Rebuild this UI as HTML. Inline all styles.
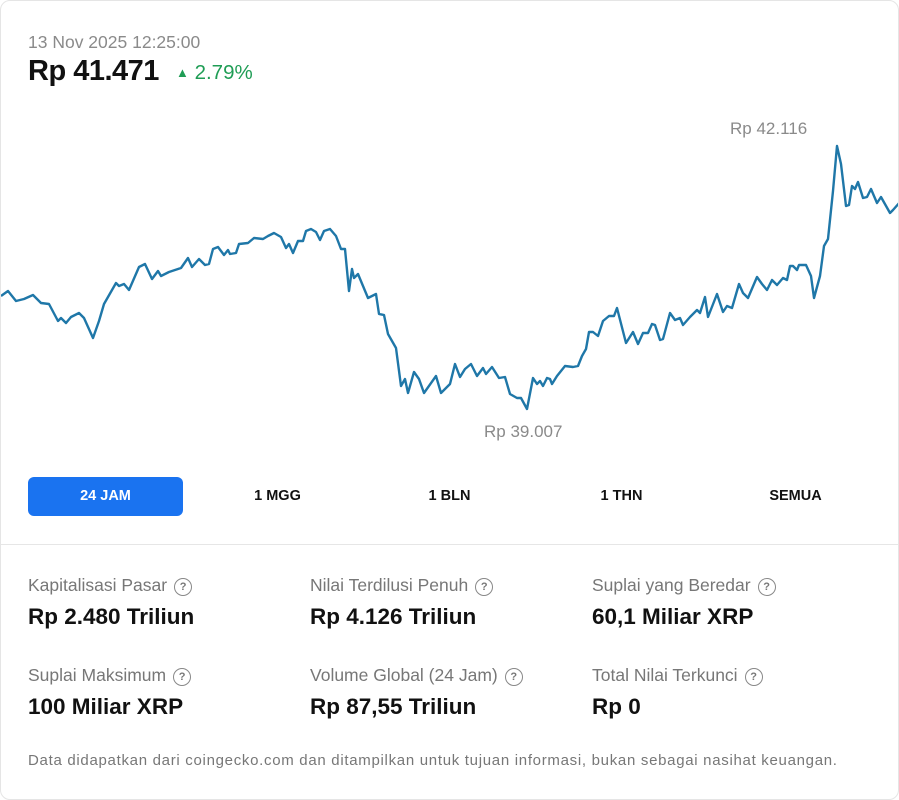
<!DOCTYPE html>
<html><head><meta charset="utf-8"><style>
body{margin:0;background:#fff;font-family:"Liberation Sans",sans-serif;}
.card{position:absolute;left:0;top:0;width:897px;height:798px;border:1px solid #e5e5e5;border-radius:10px;overflow:hidden;background:#fff}
.date{position:absolute;left:27px;top:31px;font-size:17.5px;color:#8a8a8a}
.price{position:absolute;left:27px;top:54px;font-size:29px;font-weight:bold;color:#111;letter-spacing:-0.5px}
.chg{position:absolute;left:175px;top:60px;font-size:20.5px;color:#1f9d55}
.lab{position:absolute;font-size:17px;color:#8a8a8a}
.tabs{position:absolute;top:476px;left:27px;width:845px;height:39px}
.tab{position:absolute;top:0;height:39px;line-height:39px;font-size:14.5px;font-weight:bold;color:#111;text-align:center;width:155px}
.act{background:#1a73f0;color:#fff;border-radius:6px}
.hr{position:absolute;left:0;top:543px;width:899px;height:1px;background:#e6e6e6}
.sl{position:absolute;font-size:17.5px;color:#777}
.sv{position:absolute;font-size:22.5px;font-weight:bold;color:#111}
.q{display:inline-block;width:16px;height:16px;border:1.5px solid #888;border-radius:50%;font-size:11px;line-height:16px;text-align:center;color:#777;margin-left:7px;vertical-align:1px;font-weight:bold}
.foot{position:absolute;left:27px;top:751px;font-size:15px;letter-spacing:0.7px;color:#777}
</style></head><body><div class="card">
<div class="date">13 Nov 2025 12:25:00</div>
<div class="price">Rp 41.471</div>
<div class="chg"><span style="font-size:13px;vertical-align:2px">▲</span> 2.79%</div>
<div class="lab" style="left:729px;top:118px">Rp 42.116</div>
<div class="lab" style="left:483px;top:421px">Rp 39.007</div>
<svg style="position:absolute;left:0;top:0" width="899" height="470"><polyline fill="none" stroke="#1f77a8" stroke-width="2.4" stroke-linejoin="round" points="0,295 7,290 15,300 23,298 32,294 40,302 48,303 57,320 60,317 65,322 70,316 78,312 83,317 92,337 98,320 103,303 115,282 118,285 123,283 128,289 138,266 144,263 151,278 157,270 160,275 168,271 180,267 187,257 191,266 198,258 204,264 208,263 212,248 217,246 223,254 227,249 229,253 235,252 238,243 247,242 253,237 262,238 267,235 273,232 280,236 285,247 288,243 292,252 297,240 302,240 305,230 310,228 315,231 319,239 323,230 329,228 335,235 340,248 344,248 348,290 351,268 353,277 357,273 367,297 375,293 378,313 383,314 387,333 395,347 400,385 404,378 407,392 413,371 418,378 423,392 435,375 440,392 449,383 454,363 459,376 464,368 470,363 476,375 482,367 485,373 491,366 498,377 504,376 509,393 516,397 520,397 526,408 532,377 536,383 539,380 542,385 546,377 549,378 551,383 556,375 564,365 572,366 577,365 581,355 585,348 588,331 592,331 597,335 602,320 608,315 613,315 616,307 625,342 632,331 637,343 642,332 647,332 651,323 654,324 659,339 662,338 669,312 674,319 679,317 682,324 689,316 696,309 699,312 704,296 707,316 716,293 722,311 726,305 731,307 738,283 742,292 747,297 756,276 761,283 766,289 771,279 776,284 782,277 786,279 789,265 792,265 796,269 798,264 805,264 810,275 813,297 819,275 823,245 827,238 832,190 836,145 840,163 845,205 848,204 851,185 854,188 857,181 862,197 866,196 870,188 876,202 880,196 889,212 892,209 899,201"/></svg>
<div class="tabs">
<div class="tab act" style="left:0">24 JAM</div>
<div class="tab" style="left:172px">1 MGG</div>
<div class="tab" style="left:344px">1 BLN</div>
<div class="tab" style="left:516px">1 THN</div>
<div class="tab" style="left:690px">SEMUA</div>
</div>
<div class="hr"></div>
<div class="sl" style="left:27px;top:574px">Kapitalisasi Pasar<span class="q">?</span></div>
<div class="sv" style="left:27px;top:603px">Rp 2.480 Triliun</div>
<div class="sl" style="left:309px;top:574px">Nilai Terdilusi Penuh<span class="q">?</span></div>
<div class="sv" style="left:309px;top:603px">Rp 4.126 Triliun</div>
<div class="sl" style="left:591px;top:574px">Suplai yang Beredar<span class="q">?</span></div>
<div class="sv" style="left:591px;top:603px">60,1 Miliar XRP</div>
<div class="sl" style="left:27px;top:664px">Suplai Maksimum<span class="q">?</span></div>
<div class="sv" style="left:27px;top:693px">100 Miliar XRP</div>
<div class="sl" style="left:309px;top:664px">Volume Global (24 Jam)<span class="q">?</span></div>
<div class="sv" style="left:309px;top:693px">Rp 87,55 Triliun</div>
<div class="sl" style="left:591px;top:664px">Total Nilai Terkunci<span class="q">?</span></div>
<div class="sv" style="left:591px;top:693px">Rp 0</div>
<div class="foot">Data didapatkan dari coingecko.com dan ditampilkan untuk tujuan informasi, bukan sebagai nasihat keuangan.</div>
</div></body></html>
